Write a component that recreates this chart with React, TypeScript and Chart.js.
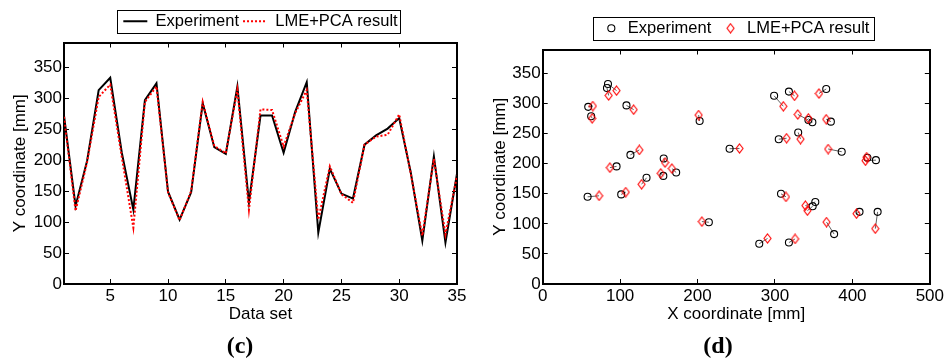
import React, { useEffect, useRef } from "react";
import { Chart, registerables } from "chart.js";

Chart.register(...registerables);

const FONT = "'Liberation Sans', Arial, Helvetica, sans-serif";

// ---- Panel (c): line chart ----
const dataSetIndex = [1, 2, 3, 4, 5, 6, 7, 8, 9, 10, 11, 12, 13, 14, 15, 16, 17, 18, 19, 20, 21, 22, 23, 24, 25, 26, 27, 28, 29, 30, 31, 32, 33, 34, 35];
const experimentY = [272, 126, 199, 313, 333, 212, 120, 297, 324, 149, 104, 148, 292, 221, 210, 319, 132, 272, 272, 212, 278, 326, 83, 186, 146, 138, 225, 240, 251, 268, 180, 70, 206, 67, 178];
const lmePcaY = [270, 118, 197, 302, 322, 205, 91, 294, 319, 148, 103, 150, 294, 223, 211, 314, 120, 282, 281, 222, 276, 313, 104, 190, 145, 131, 225, 238, 241, 274, 178, 78, 202, 80, 175];
const dataSetTicks = [5, 10, 15, 20, 25, 30, 35];
const yTicks = [0, 50, 100, 150, 200, 250, 300, 350];

// ---- Panel (d): scatter ----
const expX = [58.8, 62.6, 84.3, 83, 108.2, 113.3, 95.4, 58, 101.4, 134.1, 156.3, 155.8, 172.4, 214.6, 202.7, 241.4, 298.9, 318, 366.2, 343.2, 348.3, 372.2, 330, 304.9, 386.2, 419.4, 430.4, 307.8, 352.1, 348.7, 409.2, 432.6, 376.4, 279.7, 318];
const expY = [294.6, 279, 332.6, 326, 297, 214.7, 195.6, 145, 149, 176.6, 208.7, 179.8, 185.4, 102.7, 271, 225, 313, 320, 324.4, 272.7, 269, 270, 252, 240.8, 220, 210, 206, 150, 136.4, 129.3, 120, 120, 83, 67, 68.9];
const resX = [64.8, 63.9, 95.4, 85.2, 117.5, 124.8, 86.8, 72.8, 107.3, 127.7, 158, 152.5, 166.9, 205.6, 201.4, 254.2, 310.8, 325.3, 356.8, 329.5, 343.2, 366.2, 333, 315, 368.7, 418.5, 416.9, 314.2, 339.3, 341.9, 405.3, 429.6, 366.6, 290.4, 326];
const resY = [296, 275.5, 321.7, 313.5, 290, 223, 193.5, 146.7, 152.8, 165.8, 202, 184, 192, 103.8, 281, 225.5, 295.6, 313, 316.8, 282, 275.5, 274, 241, 242.4, 224.5, 211, 205, 145, 130.4, 122, 117, 92, 103, 75.8, 75];
const xCoordTicks = [0, 100, 200, 300, 400, 500];

function legendFrame(marginLeft: number, marginRight: number) {
  return {
    id: "legendFrame",
    afterDraw(chart: any) {
      const lg = chart.legend;
      if (!lg || !lg.legendHitBoxes || !lg.legendHitBoxes.length) return;
      const hb = lg.legendHitBoxes;
      const left = Math.min(...hb.map((h: any) => h.left));
      const right = Math.max(...hb.map((h: any) => h.left + h.width));
      const top = Math.min(...hb.map((h: any) => h.top));
      const bottom = Math.max(...hb.map((h: any) => h.top + h.height));
      const ctx = chart.ctx;
      ctx.save();
      ctx.strokeStyle = "#000";
      ctx.lineWidth = 1;
      ctx.setLineDash([]);
      ctx.strokeRect(
        Math.round(left - marginLeft) + 0.5,
        Math.round(top - 3) + 0.5,
        Math.round(right - left + marginLeft + marginRight),
        Math.round(bottom - top + 6)
      );
      ctx.restore();
    },
  };
}

function makeAxis(position: string, min: number, max: number, tickValues: number[], size: number, showLabels: boolean, title?: string) {
  const horizontal = position === "top" || position === "bottom";
  return {
    type: "linear",
    position,
    min,
    max,
    afterBuildTicks: (s: any) => {
      s.ticks = tickValues.map((v) => ({ value: v }));
    },
    afterFit: (s: any) => {
      if (horizontal) s.height = size;
      else s.width = size;
    },
    grid: { drawOnChartArea: false, drawTicks: true, tickLength: -5, color: "#000", lineWidth: 1 },
    border: { display: true, color: "#000", width: 2 },
    ticks: {
      display: showLabels,
      padding: 7,
      color: "#000",
      font: { family: FONT, size: 17 },
      maxRotation: 0,
      autoSkip: false,
    },
    title: {
      display: !!title,
      text: title || "",
      color: "#000",
      font: { family: FONT, size: 17 },
      padding: { top: 0, bottom: 0 },
    },
  };
}

function lineLegendLabels(chart: any) {
  const base = (Chart.defaults.plugins.legend.labels as any).generateLabels(chart);
  return base.map((item: any) => {
    const ds = chart.data.datasets[item.datasetIndex];
    return {
      ...item,
      pointStyle: "line",
      lineDash: ds.borderDash || [],
      lineWidth: ds.borderWidth,
      strokeStyle: ds.borderColor,
    };
  });
}

function makeDiamond(): HTMLCanvasElement {
  const c = document.createElement("canvas");
  c.width = 9;
  c.height = 11;
  const g = c.getContext("2d")!;
  g.strokeStyle = "#ff0000";
  g.lineWidth = 1.1;
  g.beginPath();
  g.moveTo(4.5, 1);
  g.lineTo(8, 5.5);
  g.lineTo(4.5, 10);
  g.lineTo(1, 5.5);
  g.closePath();
  g.stroke();
  return c;
}

function LineChart() {
  const ref = useRef<HTMLCanvasElement>(null);
  useEffect(() => {
    if (!ref.current) return;
    const chart = new Chart(ref.current, {
      type: "line",
      data: {
        datasets: [
          {
            label: "Experiment",
            data: dataSetIndex.map((x, i) => ({ x, y: experimentY[i] })),
            borderColor: "#000000",
            backgroundColor: "#000000",
            borderWidth: 2,
            pointRadius: 0,
            tension: 0,
            order: 2,
          },
          {
            label: "LME+PCA result",
            data: dataSetIndex.map((x, i) => ({ x, y: lmePcaY[i] })),
            borderColor: "#ff0000",
            backgroundColor: "#ff0000",
            borderWidth: 2,
            borderDash: [2, 2],
            pointRadius: 0,
            tension: 0,
            order: 1,
          },
        ],
      },
      options: {
        responsive: false,
        animation: false,
        layout: { padding: { left: 10, right: 18, top: 9, bottom: 35.5 } },
        scales: {
          x: makeAxis("bottom", 1, 35, dataSetTicks, 40.5, true, "Data set"),
          x2: makeAxis("top", 1, 35, dataSetTicks, 3, false),
          y: makeAxis("left", 0, 390, yTicks, 54, true, "Y coordinate [mm]"),
          y2: makeAxis("right", 0, 390, yTicks, 0, false),
        } as any,
        plugins: {
          tooltip: { enabled: false },
          legend: {
            position: "top",
            fullSize: false,
            labels: {
              usePointStyle: true,
              pointStyle: "line",
              pointStyleWidth: 24,
              padding: 4,
              color: "#000",
              font: { family: FONT, size: 16.5 },
              generateLabels: lineLegendLabels,
              sort: (a: any, b: any) => a.datasetIndex - b.datasetIndex,
            },
          },
        },
      } as any,
      plugins: [legendFrame(6, 3)],
    });
    return () => chart.destroy();
  }, []);
  return <canvas ref={ref} width={475} height={360} style={{ position: "absolute", left: 0, top: 0 }} />;
}

function ScatterChart() {
  const ref = useRef<HTMLCanvasElement>(null);
  useEffect(() => {
    if (!ref.current) return;
    const diamond = makeDiamond();
    const links: any[] = [];
    expX.forEach((x, i) => {
      links.push({ x, y: expY[i] });
      links.push({ x: resX[i], y: resY[i] });
      links.push({ x: null, y: null });
    });
    const chart = new Chart(ref.current, {
      type: "scatter",
      data: {
        datasets: [
          {
            label: "",
            data: links,
            showLine: true,
            spanGaps: false,
            borderColor: "#606060",
            borderWidth: 1,
            pointRadius: 0,
            order: 3,
          },
          {
            label: "Experiment",
            data: expX.map((x, i) => ({ x, y: expY[i] })),
            pointStyle: "circle",
            pointRadius: 3.5,
            borderColor: "#000000",
            backgroundColor: "rgba(0,0,0,0)",
            borderWidth: 1.1,
            order: 2,
          },
          {
            label: "LME+PCA result",
            data: resX.map((x, i) => ({ x, y: resY[i] })),
            pointStyle: diamond,
            pointRadius: 4,
            borderColor: "#ff0000",
            backgroundColor: "rgba(0,0,0,0)",
            borderWidth: 1,
            order: 1,
          },
        ],
      },
      options: {
        responsive: false,
        animation: false,
        layout: { padding: { left: 15, right: 15.3, top: 9, bottom: 35.5 } },
        scales: {
          x: makeAxis("bottom", 0, 500, xCoordTicks, 40.5, true, "X coordinate [mm]"),
          x2: makeAxis("top", 0, 500, xCoordTicks, 3, false),
          y: makeAxis("left", 0, 390, yTicks, 52.7, true, "Y coordinate [mm]"),
          y2: makeAxis("right", 0, 390, yTicks, 0, false),
        } as any,
        plugins: {
          tooltip: { enabled: false },
          legend: {
            position: "top",
            fullSize: false,
            labels: {
              usePointStyle: true,
              boxHeight: 5,
              boxWidth: 16.5,
              padding: 11,
              color: "#000",
              font: { family: FONT, size: 16.5 },
              filter: (item: any) => !!item.text,
              sort: (a: any, b: any) => a.datasetIndex - b.datasetIndex,
            },
          },
        },
      } as any,
      plugins: [legendFrame(10, 5)],
    });
    return () => chart.destroy();
  }, []);
  return <canvas ref={ref} width={476} height={360} style={{ position: "absolute", left: 475, top: 0 }} />;
}

const captionStyle: React.CSSProperties = {
  position: "absolute",
  top: 345,
  transform: "translate(-50%, -50%)",
  fontFamily: "'Liberation Serif', 'Times New Roman', serif",
  fontWeight: "bold",
  fontSize: 24,
  lineHeight: "24px",
  color: "#000",
  whiteSpace: "nowrap",
};

export default function App() {
  return (
    <div style={{ position: "absolute", left: 0, top: 0, width: 951, height: 360, background: "#fff", overflow: "hidden" }}>
      <LineChart />
      <ScatterChart />
      <div style={{ ...captionStyle, left: 240 }}>(c)</div>
      <div style={{ ...captionStyle, left: 718 }}>(d)</div>
    </div>
  );
}
